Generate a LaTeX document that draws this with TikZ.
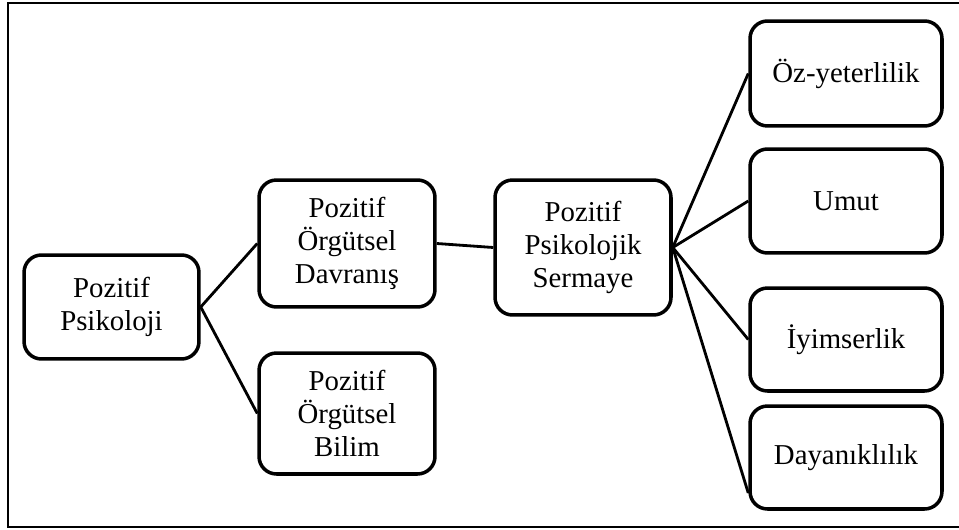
\documentclass[tikz,border=0pt]{standalone}
\usepackage{fontspec}
\setmainfont{Liberation Serif}
\begin{document}
\begin{tikzpicture}[x=0.02cm, y=-0.02cm,
    kutu/.style={draw, line width=2pt, rounded corners=0.35cm, align=center,
      inner sep=2pt, font=\fontsize{16.4}{18.8}\selectfont},
    dal/.style={line width=1.6pt}]
    % Marco exterior
    \clip (0,0) rectangle (959,530);
    \draw[line width=1.3pt] (8,3) rectangle (968,527);

    % Cajas
    \node[kutu, minimum width=3.5cm, minimum height=2.08cm] (psikoloji) at (111.5,307) {Pozitif\\Psikoloji};
    \node[kutu, minimum width=3.52cm, minimum height=2.54cm] (davranis) at (347,243.5) {Pozitif\\Örgütsel\\Davranış};
    \node[kutu, minimum width=3.52cm, minimum height=2.42cm] (bilim) at (347,413.5) {Pozitif\\Örgütsel\\Bilim};
    \node[kutu, minimum width=3.52cm, minimum height=2.7cm] (sermaye) at (583,247.5) {Pozitif\\Psikolojik\\Sermaye};
    \node[kutu, minimum width=3.84cm, minimum height=2.1cm] (oz) at (846,73.5) {Öz-yeterlilik};
    \node[kutu, minimum width=3.84cm, minimum height=2.08cm] (umut) at (846,201) {Umut};
    \node[kutu, minimum width=3.84cm, minimum height=2.06cm] (iyim) at (846,339.5) {İyimserlik};
    \node[kutu, minimum width=3.84cm, minimum height=2.06cm] (dayan) at (846,457.5) {Dayanıklılık};

    % Lineas
    \draw[dal] (psikoloji.east) -- (davranis.west);
    \draw[dal] (psikoloji.east) -- (bilim.west);
    \draw[dal] (davranis.east) -- (sermaye.west);
    \draw[dal] (sermaye.east) -- (oz.west);
    \draw[dal] (sermaye.east) -- (umut.west);
    \draw[dal] (sermaye.east) -- (iyim.west);
    \draw[dal] (sermaye.east) -- ([yshift=-0.71cm]dayan.west);
\end{tikzpicture}
\end{document}
